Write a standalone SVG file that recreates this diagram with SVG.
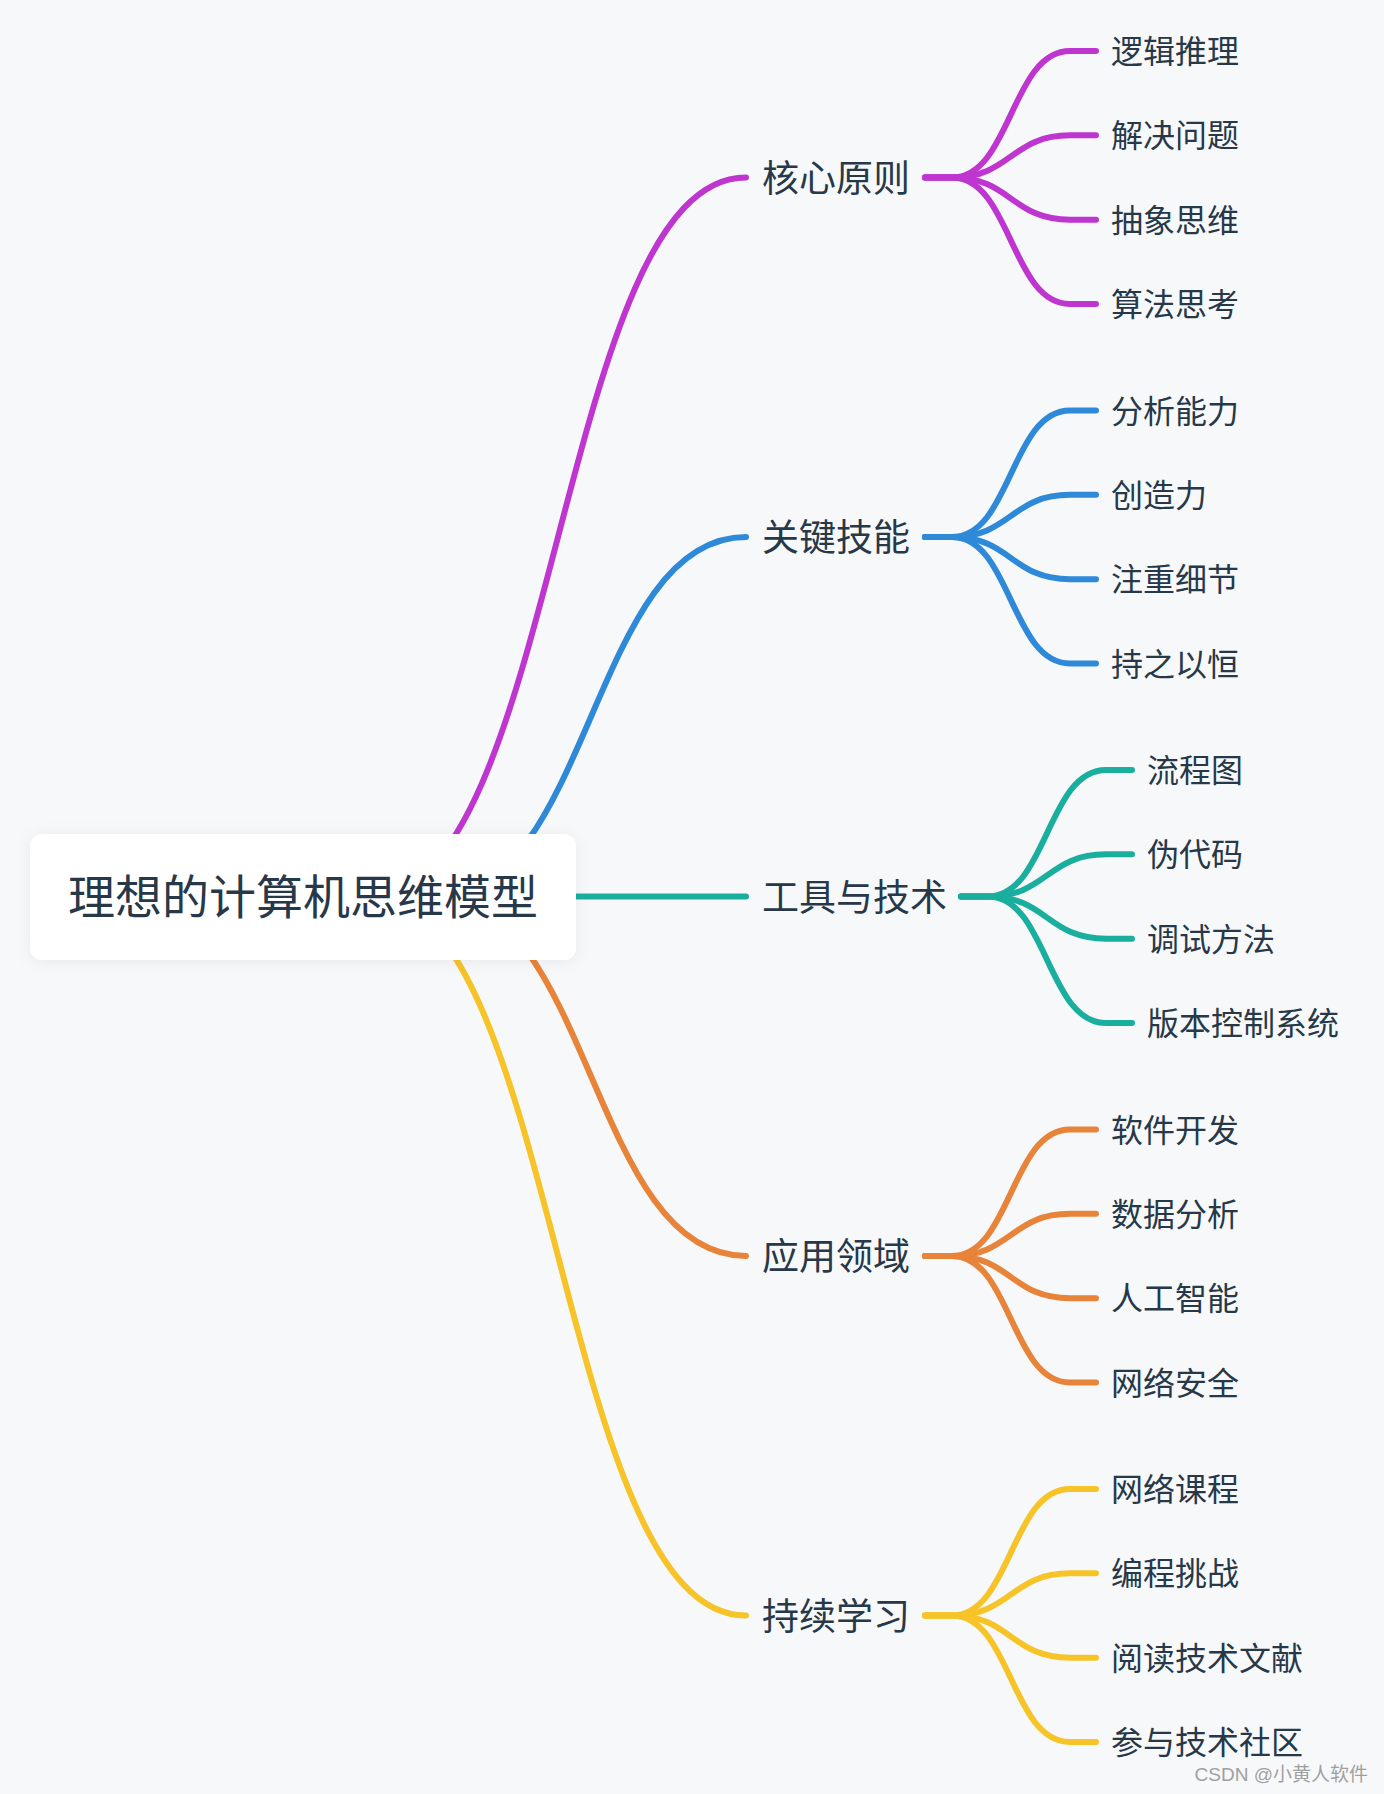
<svg xmlns="http://www.w3.org/2000/svg" width="1384" height="1794" viewBox="0 0 1384 1794">
<style>
.bg{fill:#f7f8fa}
.ln{fill:none;stroke-width:6;stroke-linecap:round;stroke-linejoin:round}
.m{stroke:#bf35d0}.b{stroke:#2e89d9}.t{stroke:#1aae9f}.o{stroke:#e8833a}.y{stroke:#f6c329}
text{font-family:"Noto Sans CJK SC","Noto Sans",sans-serif;fill:#273849;dominant-baseline:central}
.root{font-size:47px;text-anchor:middle}
.br{font-size:37px}
.lf{font-size:32px}
.wm{font-family:"Liberation Sans","Noto Sans CJK SC",sans-serif;font-size:19px;fill:#a0a0a0;text-anchor:end;dominant-baseline:auto}
</style>
<defs>
<filter id="sh" x="-10%" y="-20%" width="120%" height="140%">
<feDropShadow dx="0" dy="2" stdDeviation="8" flood-color="#000" flood-opacity="0.06"/>
</filter>
</defs>
<rect class="bg" x="0" y="0" width="1384" height="1794"/>
<g id="connectors">
<path class="ln m" d="M370 896.5 C558 896.5 558 177.5 746 177.5"/>
<path class="ln b" d="M436 896.5 C591 896.5 591 537 746 537"/>
<path class="ln t" d="M500 896.5 H746"/>
<path class="ln o" d="M436 896.5 C591 896.5 591 1256 746 1256"/>
<path class="ln y" d="M370 896.5 C558 896.5 558 1615.5 746 1615.5"/>
<g class="ln m">
<path d="M925 177.5 H952 C1011 177.5 1011 51 1070 51 H1096"/>
<path d="M925 177.5 H952 C1011 177.5 1011 135.3 1070 135.3 H1096"/>
<path d="M925 177.5 H952 C1011 177.5 1011 219.7 1070 219.7 H1096"/>
<path d="M925 177.5 H952 C1011 177.5 1011 304 1070 304 H1096"/>
</g>
<g class="ln b">
<path d="M925 537 H952 C1011 537 1011 410.5 1070 410.5 H1096"/>
<path d="M925 537 H952 C1011 537 1011 494.8 1070 494.8 H1096"/>
<path d="M925 537 H952 C1011 537 1011 579.2 1070 579.2 H1096"/>
<path d="M925 537 H952 C1011 537 1011 663.5 1070 663.5 H1096"/>
</g>
<g class="ln t">
<path d="M961 896.5 H988 C1047 896.5 1047 770 1106 770 H1132"/>
<path d="M961 896.5 H988 C1047 896.5 1047 854.3 1106 854.3 H1132"/>
<path d="M961 896.5 H988 C1047 896.5 1047 938.7 1106 938.7 H1132"/>
<path d="M961 896.5 H988 C1047 896.5 1047 1023 1106 1023 H1132"/>
</g>
<g class="ln o">
<path d="M925 1256 H952 C1011 1256 1011 1129.5 1070 1129.5 H1096"/>
<path d="M925 1256 H952 C1011 1256 1011 1213.8 1070 1213.8 H1096"/>
<path d="M925 1256 H952 C1011 1256 1011 1298.2 1070 1298.2 H1096"/>
<path d="M925 1256 H952 C1011 1256 1011 1382.5 1070 1382.5 H1096"/>
</g>
<g class="ln y">
<path d="M925 1615.5 H952 C1011 1615.5 1011 1489 1070 1489 H1096"/>
<path d="M925 1615.5 H952 C1011 1615.5 1011 1573.3 1070 1573.3 H1096"/>
<path d="M925 1615.5 H952 C1011 1615.5 1011 1657.7 1070 1657.7 H1096"/>
<path d="M925 1615.5 H952 C1011 1615.5 1011 1742 1070 1742 H1096"/>
</g>
</g>
<g id="root">
<rect x="30" y="834" width="546" height="126" rx="12" fill="#ffffff" filter="url(#sh)"/>
<text class="root" x="303" y="893.5">理想的计算机思维模型</text>
</g>
<g id="b1"><text class="br" x="762" y="175.5">核心原则</text></g>
<g id="b2"><text class="br" x="762" y="535">关键技能</text></g>
<g id="b3"><text class="br" x="762" y="894.5">工具与技术</text></g>
<g id="b4"><text class="br" x="762" y="1254">应用领域</text></g>
<g id="b5"><text class="br" x="762" y="1613.5">持续学习</text></g>
<g id="l1a"><text class="lf" x="1111" y="49">逻辑推理</text></g>
<g id="l1b"><text class="lf" x="1111" y="133.3">解决问题</text></g>
<g id="l1c"><text class="lf" x="1111" y="217.7">抽象思维</text></g>
<g id="l1d"><text class="lf" x="1111" y="302">算法思考</text></g>
<g id="l2a"><text class="lf" x="1111" y="408.5">分析能力</text></g>
<g id="l2b"><text class="lf" x="1111" y="492.8">创造力</text></g>
<g id="l2c"><text class="lf" x="1111" y="577.2">注重细节</text></g>
<g id="l2d"><text class="lf" x="1111" y="661.5">持之以恒</text></g>
<g id="l3a"><text class="lf" x="1147" y="768">流程图</text></g>
<g id="l3b"><text class="lf" x="1147" y="852.3">伪代码</text></g>
<g id="l3c"><text class="lf" x="1147" y="936.7">调试方法</text></g>
<g id="l3d"><text class="lf" x="1147" y="1021">版本控制系统</text></g>
<g id="l4a"><text class="lf" x="1111" y="1127.5">软件开发</text></g>
<g id="l4b"><text class="lf" x="1111" y="1211.8">数据分析</text></g>
<g id="l4c"><text class="lf" x="1111" y="1296.2">人工智能</text></g>
<g id="l4d"><text class="lf" x="1111" y="1380.5">网络安全</text></g>
<g id="l5a"><text class="lf" x="1111" y="1487">网络课程</text></g>
<g id="l5b"><text class="lf" x="1111" y="1571.3">编程挑战</text></g>
<g id="l5c"><text class="lf" x="1111" y="1655.7">阅读技术文献</text></g>
<g id="l5d"><text class="lf" x="1111" y="1740">参与技术社区</text></g>
<text class="wm" x="1368" y="1781">CSDN @小黄人软件</text>
</svg>
